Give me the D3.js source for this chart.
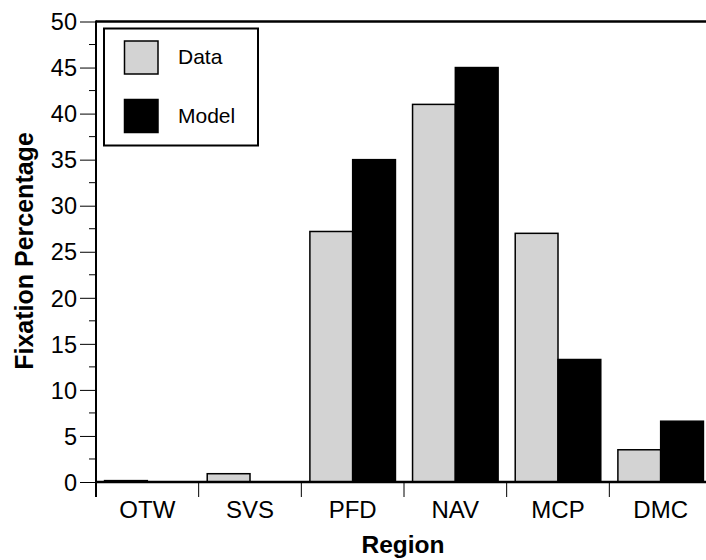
<!DOCTYPE html>
<html><head><meta charset="utf-8">
<script src="https://cdn.jsdelivr.net/npm/d3@7"></script>
<style>body{margin:0;background:#fff}svg{display:block}text{font-family:"Liberation Sans",Arial,sans-serif}</style>
</head><body>
<svg id="c" width="706" height="560"></svg>
<script>
const categories = ["OTW","SVS","PFD","NAV","MCP","DMC"];
const seriesNames = ["Data","Model"];
const dataValues = [0.15, 0.9, 27.2, 41.0, 27.0, 3.5];
const modelValues = [0, 0, 35.0, 45.0, 13.3, 6.6];
const yTicks = [0,5,10,15,20,25,30,35,40,45,50];
const colors = ["#d3d3d3", "#000000"];

(function(){
const svg = d3.select("#c");
const L = 96, R = 712, T = 21.5, B = 482;
const x = d3.scaleBand().domain(categories).range([L, R]).paddingInner(0).paddingOuter(0);
const inner = d3.scaleBand().domain(seriesNames).range([0, x.bandwidth()]).paddingOuter(0.2).paddingInner(0);
const y = d3.scaleLinear().domain([0, 50]).range([B, T]);

// bars
const series = [dataValues, modelValues];
series.forEach((vals, si) => {
  svg.append("g").selectAll("rect").data(categories.map((c,i)=>({c, v: vals[i]})).filter(d=>d.v>0))
    .join("rect")
    .attr("x", d => x(d.c) + inner(seriesNames[si]))
    .attr("width", inner.bandwidth())
    .attr("y", d => y(d.v))
    .attr("height", d => y(0) - y(d.v))
    .attr("fill", colors[si])
    .attr("stroke", "#000")
    .attr("stroke-width", 1.5);
});

// y axis
const yAxis = svg.append("g").attr("transform", `translate(${L},0)`)
  .call(d3.axisLeft(y).tickValues(yTicks).tickSize(16).tickPadding(3));
yAxis.select(".domain").remove();
yAxis.selectAll("text").attr("font-size", 23.5).attr("fill", "#000").attr("dy", "0.35em");
yAxis.selectAll("line").attr("stroke", "#000").attr("stroke-width", 1);
// minor ticks
svg.append("g").selectAll("line").data(d3.range(2.5, 50, 5)).join("line")
  .attr("x1", L - 7).attr("x2", L).attr("y1", d => y(d)).attr("y2", d => y(d))
  .attr("stroke", "#000").attr("stroke-width", 1);

// x axis ticks at boundaries
const bounds = categories.map(c => x(c)).concat([x(categories[categories.length-1]) + x.bandwidth()]);
svg.append("g").selectAll("line").data(bounds).join("line")
  .attr("x1", d => d).attr("x2", d => d).attr("y1", B).attr("y2", B + 15)
  .attr("stroke", "#000").attr("stroke-width", 1);
svg.append("g").selectAll("text").data(categories).join("text")
  .attr("x", d => x(d) + x.bandwidth()/2).attr("y", 518)
  .attr("text-anchor", "middle").attr("font-size", 24).text(d => d);

// frame lines
svg.append("line").attr("x1", L).attr("x2", 706).attr("y1", B).attr("y2", B).attr("stroke", "#000").attr("stroke-width", 2.5);
svg.append("line").attr("x1", L).attr("x2", 706).attr("y1", T).attr("y2", T).attr("stroke", "#000").attr("stroke-width", 2.5);
svg.append("line").attr("x1", L).attr("x2", L).attr("y1", T - 1).attr("y2", B + 15).attr("stroke", "#000").attr("stroke-width", 2);

// axis titles
svg.append("text").attr("x", 403).attr("y", 553)
  .attr("text-anchor", "middle").attr("font-size", 24.5).attr("font-weight", "bold").text("Region");
svg.append("text").attr("transform", "translate(32.5,251) rotate(-90)")
  .attr("text-anchor", "middle").attr("font-size", 25).attr("font-weight", "bold").text("Fixation Percentage");

// legend
const lg = svg.append("g");
lg.append("rect").attr("x", 104).attr("y", 28.5).attr("width", 154).attr("height", 117)
  .attr("fill", "#fff").attr("stroke", "#000").attr("stroke-width", 2);
seriesNames.forEach((n, i) => {
  lg.append("rect").attr("x", 124.5).attr("y", 41 + i*58.5).attr("width", 33.5).attr("height", 33)
    .attr("fill", colors[i]).attr("stroke", "#000").attr("stroke-width", 1.5);
  lg.append("text").attr("x", 178).attr("y", 63.5 + i*59).attr("font-size", 21).text(n);
});
})();
</script>
</body></html>
